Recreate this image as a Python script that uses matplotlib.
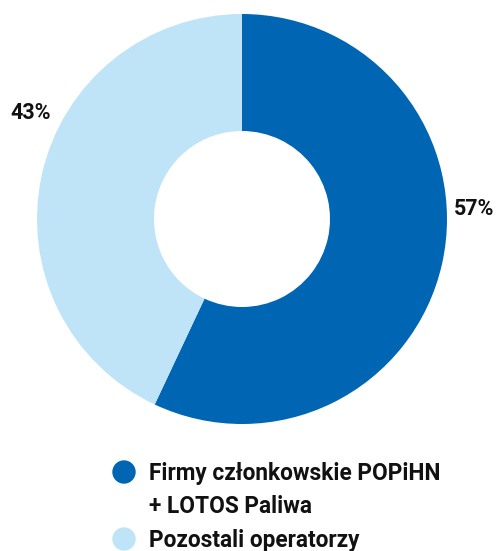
import matplotlib.pyplot as plt
from matplotlib import patches

# market share split
categories = ["Firmy członkowskie POPiHN\n+ LOTOS Paliwa", "Pozostali operatorzy"]
shares = [57, 43]
colors = ["#0066b3", "#bfe4f8"]

plt.rcParams['font.family'] = ['Roboto', 'DejaVu Sans']

fig = plt.figure(figsize=(4.96, 5.51), dpi=100)
ax = fig.add_axes([0, 0, 1, 1])

cx, cy = 242, 551 - 219
ax.pie(shares, colors=colors, startangle=90, counterclock=False,
       center=(cx, cy), radius=205, frame=True,
       wedgeprops=dict(width=117, linewidth=0))
ax.set_xlim(0, 496)
ax.set_ylim(0, 551)
ax.set_aspect('equal')
ax.axis('off')

# percentage labels
ax.text(474, 551 - 209, f"{shares[0]}%", ha='center', va='center',
        fontsize=15.5, fontweight='bold', color='#111111')
ax.text(31, 551 - 113, f"{shares[1]}%", ha='center', va='center',
        fontsize=15.5, fontweight='bold', color='#111111')

# legend
legend_y = [551 - 472, 551 - 539]
for cat, col, y in zip(categories, colors, legend_y):
    ax.add_patch(patches.Circle((124, y), radius=11.7, color=col, lw=0))
    ax.text(149, y + 10, cat, ha='left', va='top', fontsize=16.3,
            fontweight='bold', color='#111111', linespacing=1.55)

fig.savefig("out.png", dpi=100)
